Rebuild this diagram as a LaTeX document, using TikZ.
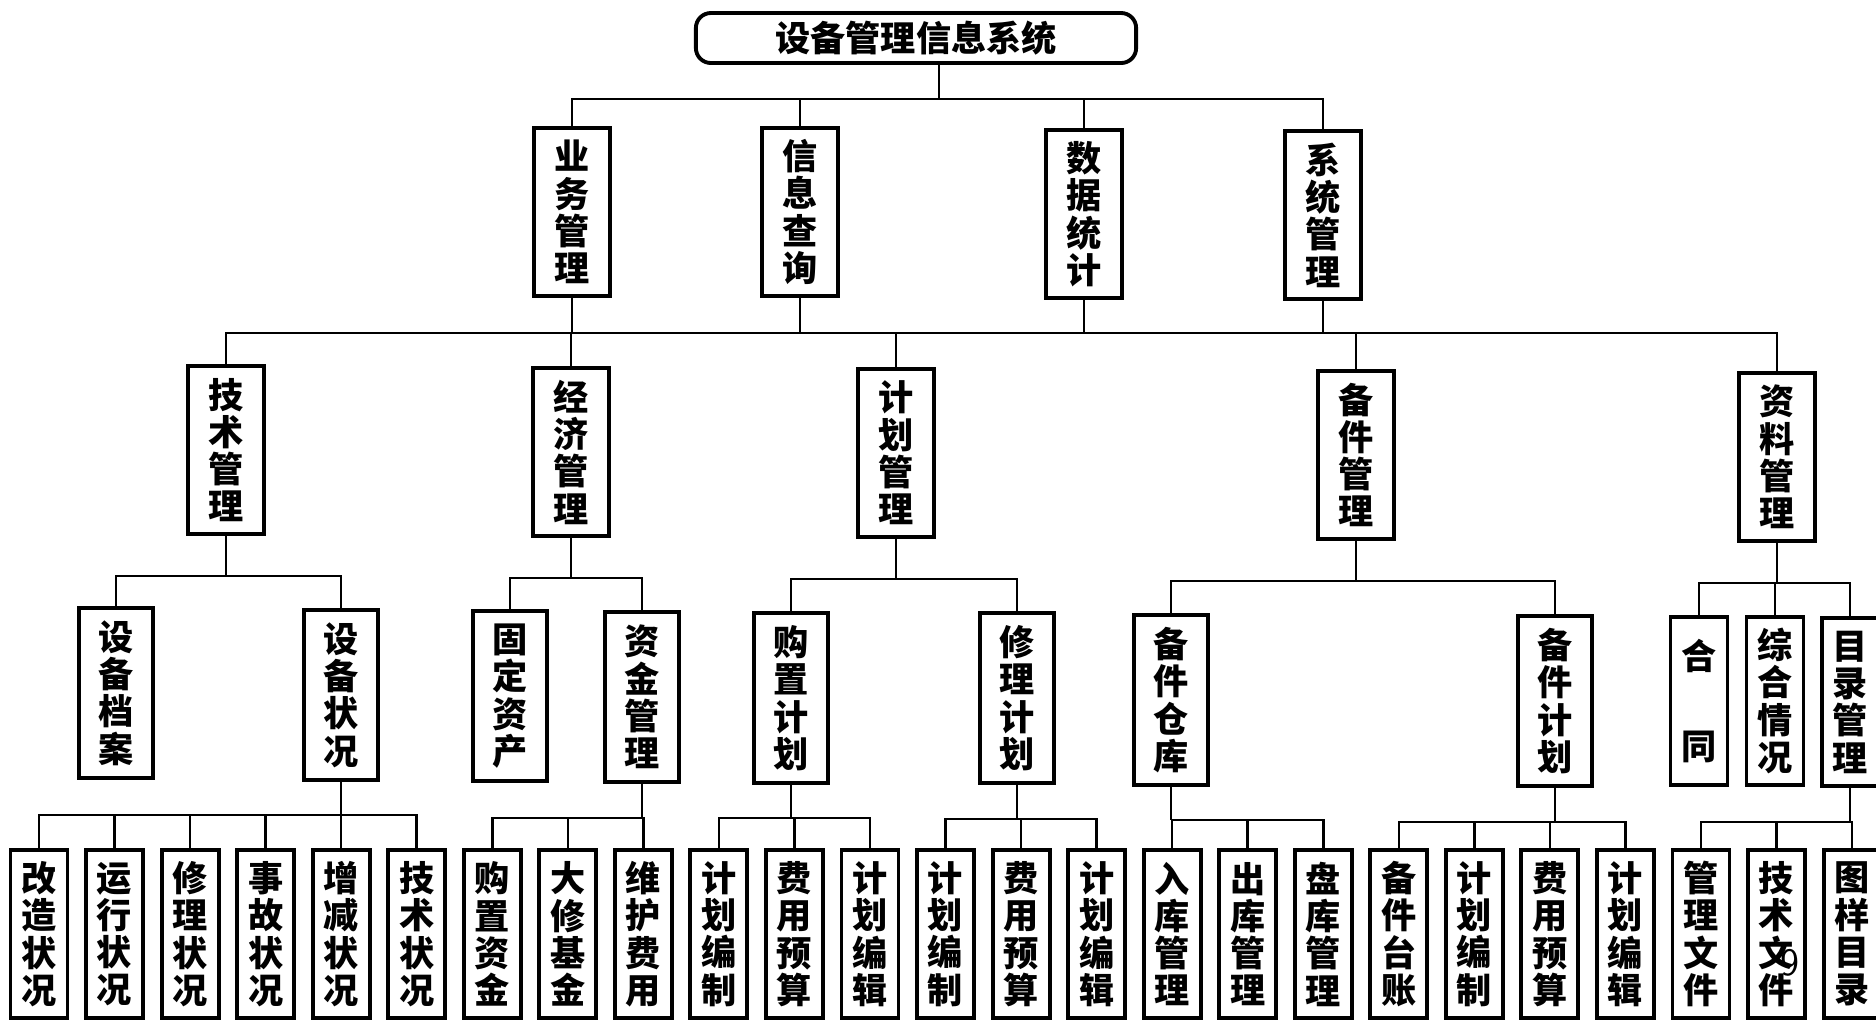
\documentclass[tikz,border=0pt]{standalone}
\usepackage{fontspec}
\newfontfamily\cjk{Noto Sans CJK SC}
\usetikzlibrary{positioning}
\tikzset{
  cellbox/.style={
    rectangle, draw, line width=1.1pt,
    inner sep=0pt, outer sep=0pt, align=center,
    font=\cjk\bfseries\fontsize{10pt}{10.6pt}\selectfont
  },
  headbox/.style = {cellbox, rounded corners=0.15cm, minimum width=4.4cm, minimum height=0.5cm},
  mainbox/.style = {cellbox, anchor=north, minimum width=0.76cm, minimum height=1.68cm},
  subbox/.style  = {cellbox, anchor=north, minimum width=0.74cm, minimum height=1.70cm},
  docbox/.style  = {cellbox, anchor=north, minimum width=0.57cm, minimum height=1.68cm},
  leafbox/.style = {cellbox, minimum width=0.57cm, minimum height=1.68cm},
  link/.style    = {line width=0.7pt},
}

\begin{document}
\begin{tikzpicture}[x=0.01cm, y=-0.01cm, node distance=0.185cm]
  \path[fill=white] (0,0) rectangle (1876,1020);
  \useasboundingbox (0,0) rectangle (1876,1020);

  % Root
  \node[headbox] (root) at (916,38) {设备管理信息系统};

  % First level
  \node[mainbox] (biz)   at (572,128)  {业\\务\\管\\理};
  \node[mainbox] (query) at (800,128)  {信\\息\\查\\询};
  \node[mainbox] (stat)  at (1084,130) {数\\据\\统\\计};
  \node[mainbox] (sysm)  at (1323,131) {系\\统\\管\\理};

  % Second level
  \node[mainbox] (tech)  at (226,366)  {技\\术\\管\\理};
  \node[mainbox] (econ)  at (571,368)  {经\\济\\管\\理};
  \node[mainbox] (plan)  at (896,369)  {计\\划\\管\\理};
  \node[mainbox] (spare) at (1356,371) {备\\件\\管\\理};
  \node[mainbox] (docs)  at (1777,373) {资\\料\\管\\理};

  % Third level
  \node[subbox] (dossier) at (116,608)  {设\\备\\档\\案};
  \node[subbox] (status)  at (341,610)  {设\\备\\状\\况};
  \node[subbox] (fixed)   at (510,611)  {固\\定\\资\\产};
  \node[subbox] (fund)    at (642,612)  {资\\金\\管\\理};
  \node[subbox] (buy)     at (791,613)  {购\\置\\计\\划};
  \node[subbox] (repair)  at (1017,613) {修\\理\\计\\划};
  \node[subbox] (store)   at (1171,615) {备\\件\\仓\\库};
  \node[subbox] (splan)   at (1555,616) {备\\件\\计\\划};
  \node[docbox] (contract) at (1699,617) {合\\[15pt]同};
  \node[docbox] (summary)  at (1775,617) {综\\合\\情\\况};
  \node[docbox, minimum width=0.56cm] (catalog) at (1850,618) {目\\录\\管\\理};

  % Bottom row
  \node[leafbox, anchor=north] (rebuild) at (39,850) {改\\造\\状\\况};
  \node[leafbox, right=of rebuild]  (running)  {运\\行\\状\\况};
  \node[leafbox, right=of running]  (mending)  {修\\理\\状\\况};
  \node[leafbox, right=of mending]  (accident) {事\\故\\状\\况};
  \node[leafbox, right=of accident] (change)   {增\\减\\状\\况};
  \node[leafbox, right=of change]   (techst)   {技\\术\\状\\况};
  \node[leafbox, right=of techst]   (buyfund)  {购\\置\\资\\金};
  \node[leafbox, right=of buyfund]  (overhaul) {大\\修\\基\\金};
  \node[leafbox, right=of overhaul] (upkeep)   {维\\护\\费\\用};
  \node[leafbox, right=of upkeep]   (bmake)    {计\\划\\编\\制};
  \node[leafbox, right=of bmake]    (bcost)    {费\\用\\预\\算};
  \node[leafbox, right=of bcost]    (bedit)    {计\\划\\编\\辑};
  \node[leafbox, right=of bedit]    (rmake)    {计\\划\\编\\制};
  \node[leafbox, right=of rmake]    (rcost)    {费\\用\\预\\算};
  \node[leafbox, right=of rcost]    (redit)    {计\\划\\编\\辑};
  \node[leafbox, right=of redit]    (instock)  {入\\库\\管\\理};
  \node[leafbox, right=of instock]  (outstock) {出\\库\\管\\理};
  \node[leafbox, right=of outstock] (count)    {盘\\库\\管\\理};
  \node[leafbox, right=of count]    (ledger)   {备\\件\\台\\账};
  \node[leafbox, right=of ledger]   (smake)    {计\\划\\编\\制};
  \node[leafbox, right=of smake]    (scost)    {费\\用\\预\\算};
  \node[leafbox, right=of scost]    (sedit)    {计\\划\\编\\辑};
  \node[leafbox, right=of sedit]    (mfile)    {管\\理\\文\\件};
  \node[leafbox, right=of mfile]    (tfile)    {技\\术\\文\\件};
  \node[leafbox, right=of tfile]    (drawing)  {图\\样\\目\\录};

  % page number
  \node[font=\sffamily\fontsize{11pt}{11pt}\selectfont] (pageno) at (1790,963) {9};

  % Connectors
  \draw[link] ([xshift=0.23cm]root.south) -- ++(0,36) coordinate (b0)
    (b0) -| (biz.north) (b0) -| (query.north) (b0) -| (stat.north) (b0) -| (sysm.north);
  \draw[link] (biz.south) -- ++(0,37) coordinate (b1)
    (b1) -| (tech.north) (b1) -| (econ.north) (b1) -| (plan.north)
    (b1) -| (spare.north) (b1) -| (docs.north)
    (query.south) -- (query.south |- b1)
    (stat.south) -- (stat.south |- b1)
    (sysm.south) -- (sysm.south |- b1);

  \draw[link] (tech.south) -- ++(0,42) coordinate (b2)
    (b2) -| (dossier.north) (b2) -| (status.north);
  \draw[link] (econ.south) -- ++(0,42) coordinate (b3)
    (b3) -| (fixed.north) (b3) -| (fund.north);
  \draw[link] (plan.south) -- ++(0,42) coordinate (b4)
    (b4) -| (buy.north) (b4) -| (repair.north);
  \draw[link] (spare.south) -- ++(0,42) coordinate (b5)
    (b5) -| (store.north) (b5) -| (splan.north);
  \draw[link] (docs.south) -- ++(0,42) coordinate (b6)
    (b6) -| (contract.north) (b6) -| (summary.north) (b6) -| (catalog.north);

  \draw[link] (status.south) -- ++(0,35) coordinate (c1)
    (c1) -| (rebuild.north) (c1) -| (running.north) (c1) -| (mending.north)
    (c1) -| (accident.north) (c1) -| (change.north) (c1) -| (techst.north);
  \draw[link] (fund.south) -- ++(0,36) coordinate (c2)
    (c2) -| (buyfund.north) (c2) -| (overhaul.north) (c2) -| (upkeep.north);
  \draw[link] (buy.south) -- ++(0,35) coordinate (c3)
    (c3) -| (bmake.north) (c3) -| (bcost.north) (c3) -| (bedit.north);
  \draw[link] (repair.south) -- ++(0,36) coordinate (c4)
    (c4) -| (rmake.north) (c4) -| (rcost.north) (c4) -| (redit.north);
  \draw[link] (store.south) -- ++(0,35) coordinate (c5)
    (c5) -| (instock.north) (c5) -| (outstock.north) (c5) -| (count.north);
  \draw[link] (splan.south) -- ++(0,36) coordinate (c6)
    (c6) -| (ledger.north) (c6) -| (smake.north) (c6) -| (scost.north) (c6) -| (sedit.north);
  \draw[link] (catalog.south) -- ++(0,36) coordinate (c7)
    (c7) -| (mfile.north) (c7) -| (tfile.north) (c7) -| (drawing.north);

\end{tikzpicture}
\end{document}
